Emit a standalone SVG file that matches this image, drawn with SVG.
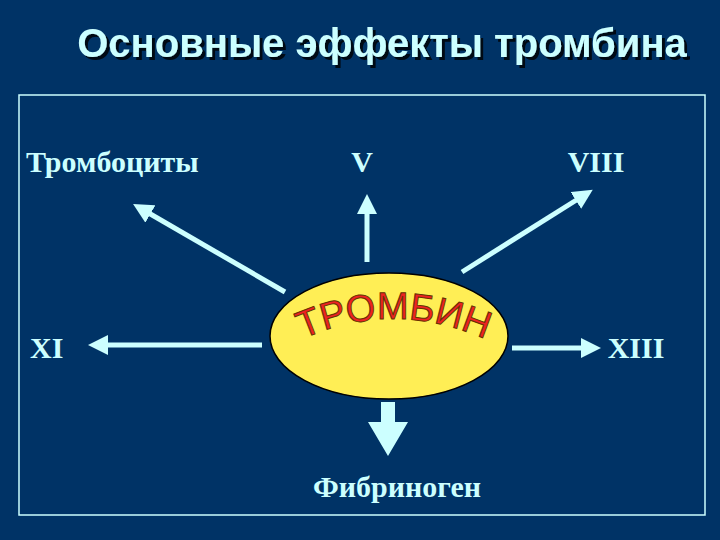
<svg xmlns="http://www.w3.org/2000/svg" width="720" height="540" viewBox="0 0 720 540">
<defs>
<marker id="ah" viewBox="0 0 10 10" refX="6" refY="5" markerWidth="4" markerHeight="4" orient="auto" markerUnits="strokeWidth"><path d="M0,0 L10,5 L0,10 z" fill="#ccffff"/></marker>
<path id="arc" d="M296,342 Q392,296 492,342"/>
<filter id="sh" x="-5%" y="-20%" width="110%" height="140%"><feDropShadow dx="3" dy="3" stdDeviation="0.5" flood-color="#000" flood-opacity="0.8"/></filter>
</defs>
<style>
.lbl{font-family:"Liberation Serif",serif;font-weight:bold;font-size:30px;fill:#ccffff}
.ln{stroke:#ccffff;stroke-width:5;fill:none;marker-end:url(#ah)}
</style>
<rect width="720" height="540" fill="#003366"/>
<text x="382" y="57" text-anchor="middle" font-family="Liberation Sans,sans-serif" font-weight="bold" font-size="40" fill="#ccffff" filter="url(#sh)">Основные эффекты тромбина</text>
<rect x="19" y="95" width="686" height="420" fill="none" stroke="#ccffff" stroke-width="1.5"/>
<g id="connectors">
<line class="ln" x1="285" y1="292" x2="140" y2="208"/>
<line class="ln" x1="367" y1="262" x2="367" y2="202"/>
<line class="ln" x1="462" y1="272" x2="586" y2="194"/>
<line class="ln" x1="262" y1="345" x2="96" y2="345"/>
<line class="ln" x1="512" y1="348" x2="593" y2="348"/>
<path d="M381,402 H395 V422 H408 L388,456 L368,422 H381 Z" fill="#ccffff"/>
</g>
<g id="thrombin">
<ellipse cx="389" cy="336" rx="119" ry="63" fill="#ffee55" stroke="#000" stroke-width="1.5"/>
<text font-family="Liberation Sans,sans-serif" font-size="38" fill="#ee2222" stroke="#663300" stroke-width="1"><textPath href="#arc" startOffset="50%" text-anchor="middle">ТРОМБИН</textPath></text>
</g>
<g id="n1"><text class="lbl" x="26" y="172">Тромбоциты</text></g>
<g id="n2"><text class="lbl" x="362" y="172" text-anchor="middle">V</text></g>
<g id="n3"><text class="lbl" x="596" y="172" text-anchor="middle">VIII</text></g>
<g id="n4"><text class="lbl" x="30" y="358">XI</text></g>
<g id="n5"><text class="lbl" x="636" y="358" text-anchor="middle">XIII</text></g>
<g id="n6"><text class="lbl" x="397" y="497" text-anchor="middle">Фибриноген</text></g>
</svg>
